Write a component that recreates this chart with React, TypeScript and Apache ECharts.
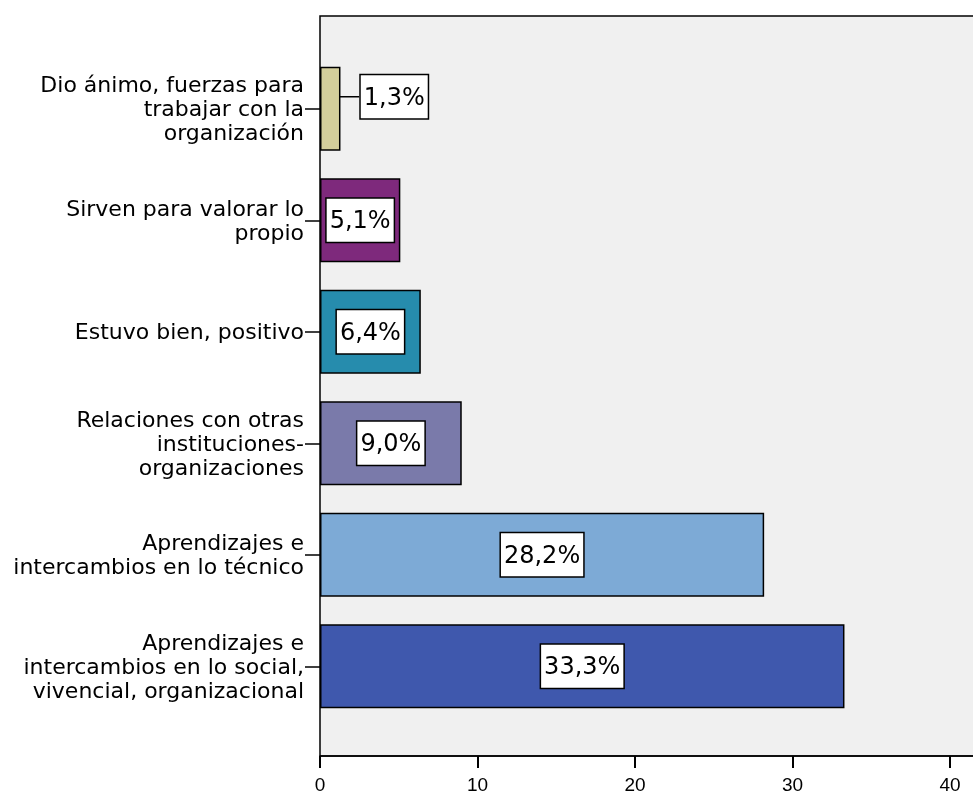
import React, { useEffect, useRef } from "react";
import * as echarts from "echarts";

const categories = [
  "Dio ánimo, fuerzas para\ntrabajar con la\norganización",
  "Sirven para valorar lo\npropio",
  "Estuvo bien, positivo",
  "Relaciones con otras\ninstituciones-\norganizaciones",
  "Aprendizajes e\nintercambios en lo técnico",
  "Aprendizajes e\nintercambios en lo social,\nvivencial, organizacional",
];
const values = [1.3, 5.1, 6.4, 9.0, 28.2, 33.3];
const colors = ["#d3ce9b", "#7e297c", "#268cad", "#7a7aaa", "#7daad6", "#3f58ad"];
const xTicks = [0, 10, 20, 30, 40];

export default function App() {
  const ref = useRef<HTMLDivElement>(null);
  useEffect(() => {
    if (!ref.current) return;
    const chart = echarts.init(ref.current, undefined, { renderer: "svg" });
    const xMax = 42;
    const gridWidth = 15.75 * xMax;
    chart.setOption({
      animation: false,
      grid: [
        {
          left: 320,
          top: 16,
          width: gridWidth,
          height: 743,
          show: true,
          backgroundColor: "#f0f0f0",
          borderColor: "#000",
          borderWidth: 1.5,
        },
        { left: 320, top: 53, width: gridWidth, height: 669 },
      ],
      xAxis: [
        {
          gridIndex: 0,
          type: "value",
          min: 0,
          max: xMax,
          interval: 10,
          splitLine: { show: false },
          axisLine: { show: true, lineStyle: { color: "#000", width: 1.5 } },
          axisTick: { show: true, length: 12, lineStyle: { color: "#000", width: 2 } },
          axisLabel: {
            color: "#000",
            fontFamily: "Liberation Sans, Arial, sans-serif",
            fontSize: 19,
            margin: 19,
            formatter: (v: number) => (xTicks.indexOf(v) >= 0 ? String(v) : ""),
          },
        },
        {
          gridIndex: 1,
          type: "value",
          min: 0,
          max: xMax,
          show: false,
        },
      ],
      yAxis: [
        { gridIndex: 0, type: "value", show: false },
        {
          gridIndex: 1,
          type: "category",
          inverse: true,
          data: categories,
          axisLine: { show: false },
          axisTick: {
            show: true,
            alignWithLabel: true,
            length: 15,
            lineStyle: { color: "#000", width: 1.5 },
          },
          axisLabel: {
            color: "#000",
            fontFamily: "DejaVu Sans, sans-serif",
            fontSize: 22,
            lineHeight: 24,
            margin: 16,
            align: "right",
            interval: 0,
          },
        },
      ],
      series: [
        {
          type: "bar",
          xAxisIndex: 1,
          yAxisIndex: 1,
          barWidth: 84,
          data: values.map((v, i) => ({
            value: v,
            itemStyle: { color: colors[i] },
          })),
          itemStyle: { borderColor: "#000", borderWidth: 1.5 },
          label: {
            show: true,
            position: "inside",
            formatter: (p: any) => p.value.toFixed(1).replace(".", ",") + "%",
            color: "#000",
            fontFamily: "DejaVu Sans, sans-serif",
            fontSize: 24,
            lineHeight: 29,
            backgroundColor: "#fff",
            borderColor: "#000",
            borderWidth: 1.5,
            padding: [7, 3, 7, 3],
          },
          labelLayout: (p: any) => (p.dataIndex === 0 ? { dx: 64, dy: -12 } : {}),
          labelLine: { show: true, lineStyle: { color: "#000", width: 1.5 } },
        },
      ],
    });
    return () => chart.dispose();
  }, []);
  return (
    <div
      style={{
        position: "fixed",
        left: 0,
        top: 0,
        width: 973,
        height: 794,
        overflow: "hidden",
      }}
    >
      <div ref={ref} style={{ width: 1010, height: 794 }} />
    </div>
  );
}
